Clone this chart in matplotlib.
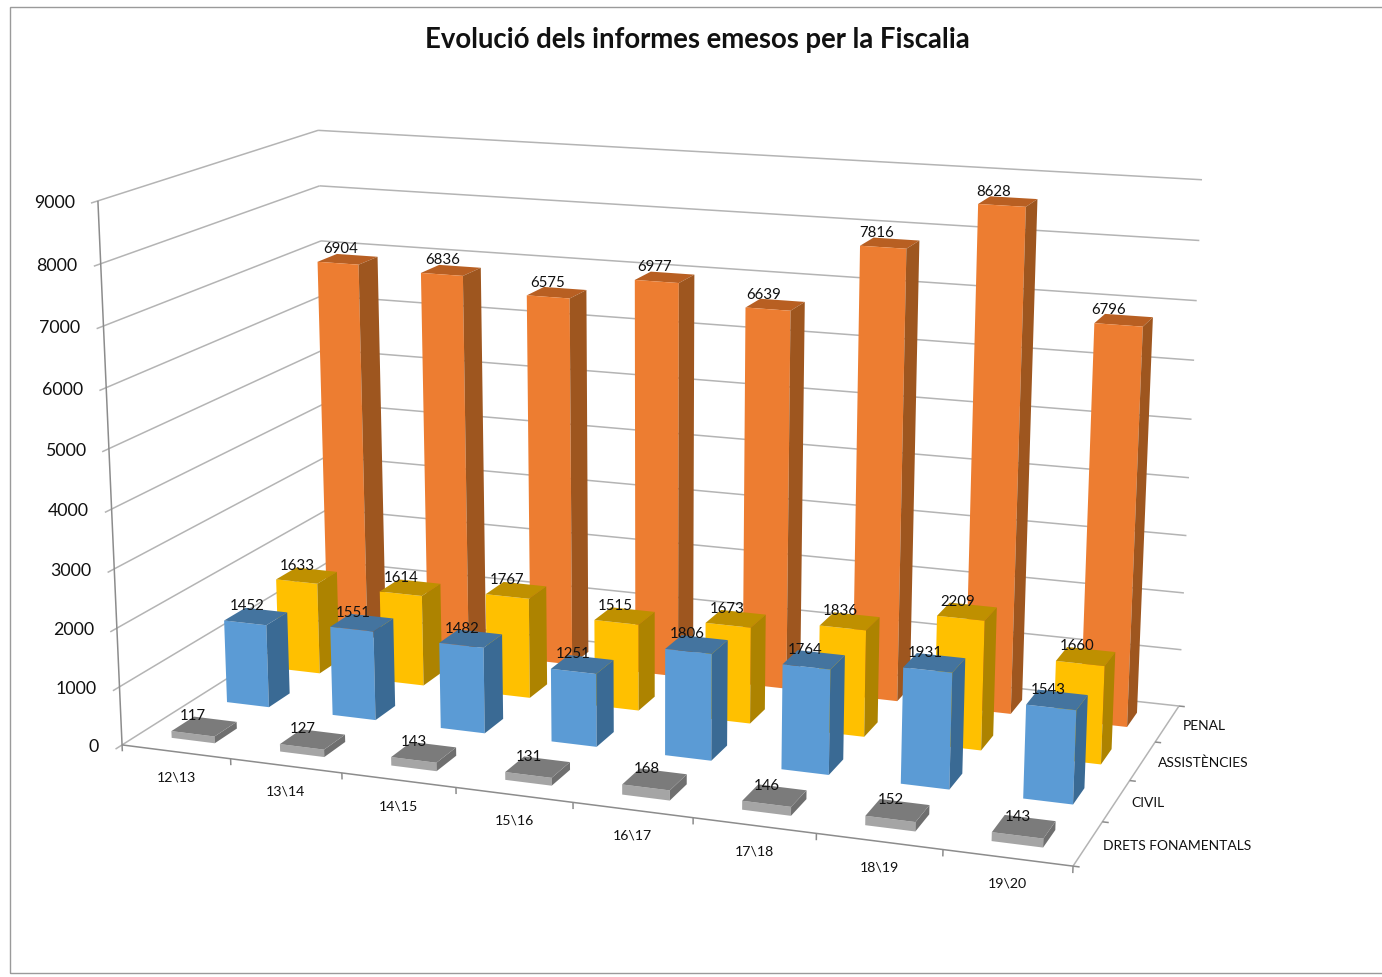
import numpy as np
import matplotlib
matplotlib.use("Agg")
import matplotlib.pyplot as plt
from matplotlib.patches import Rectangle
from mpl_toolkits.mplot3d.art3d import Line3DCollection

plt.rcParams['font.family'] = ['Lato', 'DejaVu Sans']

# ---- data -------------------------------------------------------------
categories = ['12\\13', '13\\14', '14\\15', '15\\16', '16\\17', '17\\18', '18\\19', '19\\20']
series_names = ['DRETS FONAMENTALS', 'CIVIL', 'ASSISTÈNCIES', 'PENAL']
drets = [117, 127, 143, 131, 168, 146, 152, 143]
civil = [1452, 1551, 1482, 1251, 1806, 1764, 1931, 1543]
assistencies = [1633, 1614, 1767, 1515, 1673, 1836, 2209, 1660]
penal = [6904, 6836, 6575, 6977, 6639, 7816, 8628, 6796]
z_ticks = [0, 1000, 2000, 3000, 4000, 5000, 6000, 7000, 8000, 9000]
title = 'Evolució dels informes emesos per la Fiscalia'

# ---- style: (front, top, side) ---------------------------------------
palette = [('#A5A5A5', '#7B7B7B', '#6F6F6F'),
           ('#5B9BD5', '#44749F', '#3A6A94'),
           ('#FFC000', '#BF9000', '#AD8300'),
           ('#ED7D31', '#B85F22', '#9E561F')]
label_shift = [(-2, 3), (0, 0), (0, 0), (2, -6)]  # pixel nudge of data labels: first/last bar of a row
BAR_W, BAR_D = 0.40, 0.40
W_PX, H_PX = 1382, 977

fig = plt.figure(figsize=(W_PX / 100, H_PX / 100), dpi=100, facecolor='white')
fig.add_artist(Rectangle((10 / W_PX, 1 - 973 / H_PX), 1 - 10 / W_PX + 0.01, (973 - 7) / H_PX,
                         transform=fig.transFigure, fill=False, clip_on=True,
                         edgecolor='#9a9a9a', linewidth=1))
ax = fig.add_axes([0, 0, 1, 1], projection='3d', computed_zorder=False)
ax.set_axis_off()
ax.patch.set_visible(False)
ax.apply_aspect = lambda position=None: None

# ---- camera: projective map calibrated from the box corners ----------
n_x, n_y, z_max = len(categories), len(series_names), z_ticks[-1]
corners = [((0, 0, 0), (122, 744)), ((n_x, 0, 0), (1073, 867)),
           ((0, n_y, 0), (331, 614)), ((n_x, n_y, 0), (1179, 705)),
           ((0, 0, 1), (98, 201)), ((0, n_y, 1), (318, 130)),
           ((n_x, n_y, 1), (1202, 180))]
rows = []
for (px, py, pz), (u, v) in corners:
    v = H_PX - v
    rows.append([px, py, pz, 1, 0, 0, 0, 0, -u * px, -u * py, -u * pz, -u])
    rows.append([0, 0, 0, 0, px, py, pz, 1, -v * px, -v * py, -v * pz, -v])
P = np.linalg.svd(np.array(rows, float))[2][-1].reshape(3, 4)
if P[2, 3] < 0:
    P = -P
P[:, 2] /= z_max
CAM = np.vstack([P[0], P[1], [0, 0, 0, 1], P[2]])


def get_proj():
    A = ax.transData.inverted().get_affine().get_matrix()
    T = np.array([[A[0, 0], A[0, 1], 0, A[0, 2]],
                  [A[1, 0], A[1, 1], 0, A[1, 2]],
                  [0, 0, 1, 0],
                  [0, 0, 0, 1]])
    return T @ CAM


ax.get_proj = get_proj


def label(x, y, z, s, dx, dy, **kw):
    """Place a text at the projected position of a data point, offset in pixels."""
    q = CAM @ np.array([x, y, z, 1.0])
    fig.text((q[0] / q[3] + dx) / W_PX, (q[1] / q[3] + dy) / H_PX, s, color='#111111', **kw)


# ---- walls, floor and axis lines --------------------------------------
GRID = '#b4b4b4'
AXIS = '#8c8c8c'
grid_segs, axis_segs = [], []
for v in z_ticks:
    grid_segs.append([(0, -0.11, v), (0, n_y, v)])
    grid_segs.append([(0, n_y, v), (n_x, n_y, v)])
    label(0, 0, v, str(v), -23, -2, ha='right', va='center', fontsize=12.8)
axis_segs.append([(0, 0, 0), (0, 0, z_max)])
axis_segs.append([(0, 0, 0), (n_x, 0, 0)])
grid_segs.append([(n_x, 0, 0), (n_x, n_y, 0)])
for i in range(n_x + 1):
    axis_segs.append([(i, 0, 0), (i, 0, -110)])
for j in range(n_y + 1):
    axis_segs.append([(n_x, j, 0), (n_x + 0.05, j, 0)])
ax.add_collection3d(Line3DCollection(grid_segs, colors=GRID, linewidths=1.1, zorder=1))
ax.add_collection3d(Line3DCollection(axis_segs, colors=AXIS, linewidths=1.1, zorder=2))

# ---- bars -------------------------------------------------------------
for j, (values, (front, top, side)) in enumerate(zip([drets, civil, assistencies, penal], palette)):
    xs = np.arange(n_x) + 0.5 - BAR_W / 2
    ys = np.full(n_x, j + 0.5 - BAR_D / 2)
    none = (0, 0, 0, 0)
    # bar3d faces: bottom, top, front, back, left, right
    colors = [none, top, front, none, none, side] * n_x
    ax.bar3d(xs, ys, np.zeros(n_x), BAR_W, BAR_D, values, color=colors, shade=False,
             edgecolor='none', linewidth=0, zorder=5 + (n_y - j))
    first, last = label_shift[j]
    for i, val in enumerate(values):
        nudge = first + (last - first) * i / (n_x - 1)
        label(i + 0.5, j + 0.5, val, str(val), -9 + nudge, 10, ha='center', va='center', fontsize=10.8)

for i, cat in enumerate(categories):
    label(i + 0.5, 0, 0, cat, 0, -26, ha='center', va='center', fontsize=10.2)
for j, name in enumerate(series_names):
    label(n_x, j + 0.5, 0, name, 15, -2, ha='left', va='center', fontsize=10)

fig.text(697 / W_PX, 1 - 40 / H_PX, title, ha='center', va='center',
         fontsize=19.8, fontweight='bold', color='#111111')

fig.savefig('out.png', dpi=100, facecolor='white')
